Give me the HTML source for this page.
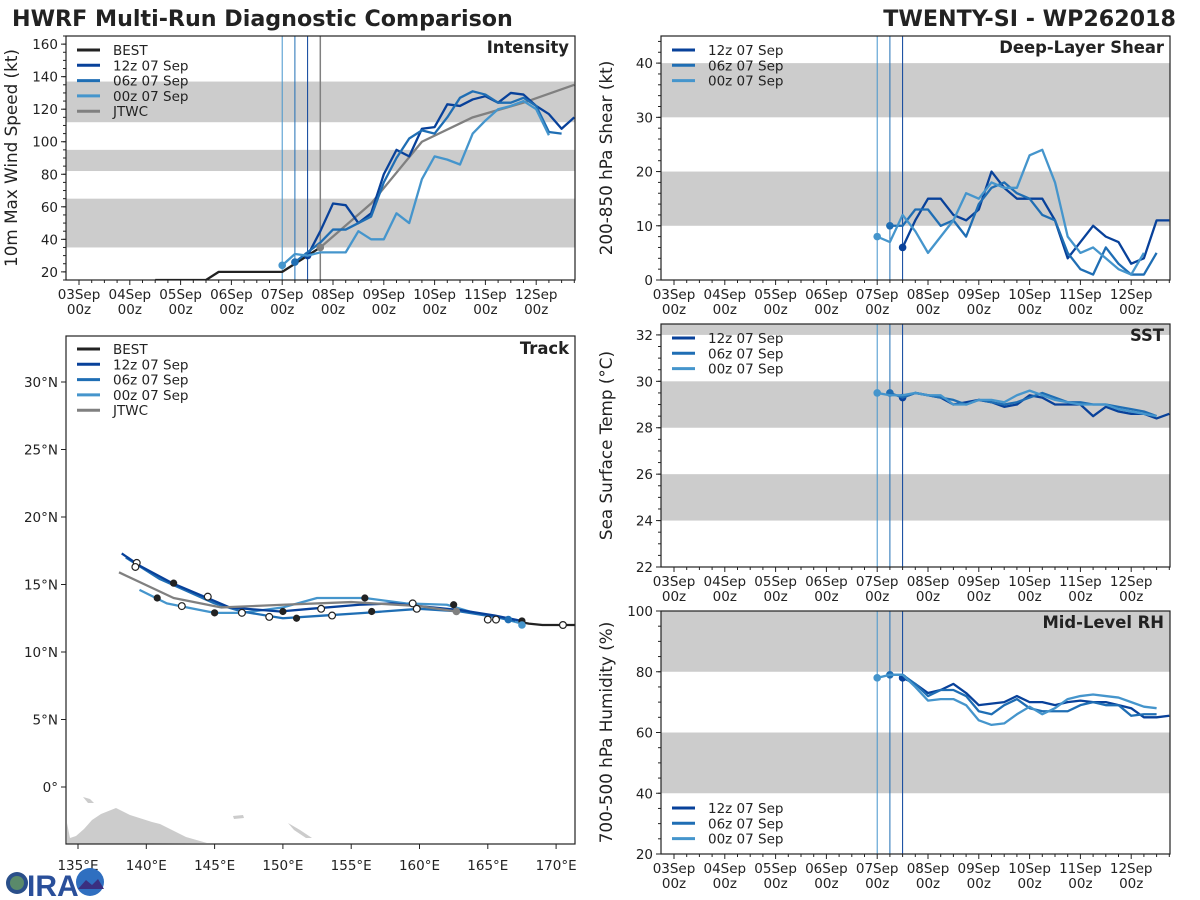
<!DOCTYPE html>
<html><head><meta charset="utf-8"><style>
body{margin:0;background:#fff;}
svg{display:block;font-family:"DejaVu Sans","Liberation Sans",sans-serif;}
</style></head><body>
<svg id="s" width="1200" height="900" viewBox="0 0 1200 900" xmlns="http://www.w3.org/2000/svg">
<text x="12" y="26" font-size="22.2" font-weight="bold" fill="#222">HWRF Multi-Run Diagnostic Comparison</text>
<text x="1176" y="26" font-size="22.2" font-weight="bold" fill="#222" text-anchor="end">TWENTY-SI - WP262018</text>
<g id="root"></g>
<g>
<circle cx="17" cy="883" r="11" fill="#2a4f8a"/><circle cx="17" cy="883" r="7" fill="#5a8a6a"/>
<text x="27" y="896" font-size="30" font-weight="bold" fill="#2a4f9a" font-family="Liberation Sans,sans-serif">IRA</text>
<circle cx="90" cy="882" r="14" fill="#2f6fc0"/><path d="M78 889 L86 880 L92 885 L98 879 L104 889 Z" fill="#3a2f80"/>
</g>
</svg>
<script>
const NS='http://www.w3.org/2000/svg';
const root=document.getElementById('root');
// ---------- DATA ----------
const runLabels=['12z 07 Sep','06z 07 Sep','00z 07 Sep'];
const runColors=['#08419a','#1f6eb4','#4595cc'];
const runStartHours=[108,102,96];
const bestHours=[36,60,66,96,102,108,114];
const bestVmax=[15,15,20,20,25,30,35];
const int12=[30,45,62,61,50,56,80,95,91,108,109,123,122,126,128,124,130,129,122,117,108,115];
const int06=[26,32,38,46,46,50,54,75,90,102,107,105,115,127,131,129,124,124,127,122,106,105];
const int00=[24,31,30,32,32,32,45,40,40,56,50,77,91,89,86,105,113,120,122,125,120,104];
const jtwcHours=[114,138,162,186,210,234];
const jtwcVmax=[35,62,100,115,124,135];
const shr12=[6,11,15,15,12,11,13,20,17,15,15,15,11,4,7,10,8,7,3,4,11,11];
const shr06=[10,10,13,13,10,11,8,14,17,18,16,15,12,11,5,2,1,6,3,1,1,5];
const shr00=[8,7,12,9,5,8,11,16,15,18,17,17,23,24,18,8,5,6,4,2,1,5];
const sst12=[29.3,29.5,29.4,29.3,29.0,29.1,29.2,29.1,28.9,29.0,29.4,29.3,29.0,29.0,29.0,28.5,28.9,28.7,28.6,28.6,28.4,28.6];
const sst06=[29.5,29.3,29.5,29.4,29.3,29.2,29.0,29.2,29.1,29.0,29.1,29.3,29.5,29.3,29.1,29.1,29.0,29.0,28.9,28.8,28.7,28.5];
const sst00=[29.5,29.4,29.4,29.5,29.4,29.4,29.0,29.0,29.2,29.2,29.1,29.4,29.6,29.4,29.2,29.1,29.0,29.0,29.0,28.8,28.7,28.6,28.5];
const rh12=[78,76,73,74,76,73,69,69.5,70,72,70,70,69,70,70.5,70,70,69,68,65,65,65.5];
const rh06=[79,79,76,72,74,74,72,67,66,69,71,68,67,67,67,69,70,69,69,65.5,66,66];
const rh00=[78,79,79,75,70.5,71,71,69,64,62.5,63,66,68.5,66,68,71,72,72.5,72,71.5,70,68.5,68];
const trkBestLon=[172.5,171,170,169,168,167.5];
const trkBestLat=[12.0,12.0,12.0,12.0,12.1,12.2];
const trk12Lon=[138.2,139.5,141.9,144.7,146.1,149.8,152,155.6,158,160,163,165.5,167.5];
const trk12Lat=[17.3,16.4,15.1,13.9,13.3,13.0,13.2,13.5,13.6,13.4,13.1,12.7,12.3];
const trk06Lon=[138.5,141,143,145,147,150,153,156,160,163,165.5,167];
const trk06Lat=[17.0,15.4,14.5,13.6,13.0,12.5,12.7,12.9,13.2,13.0,12.6,12.3];
const trk00Lon=[139.5,141.5,143,145,147,150,152.5,156,159,162,164,166,167.5];
const trk00Lat=[14.6,13.6,13.3,12.9,12.9,13.3,14.0,14.0,13.6,13.5,12.9,12.5,12.1];
const trkJtwcLon=[138.0,142.0,145.5,150,155,160,162.7];
const trkJtwcLat=[15.9,14.0,13.3,13.5,13.7,13.4,13.0];
const mkFilledLon=[140.8,142,145,150,151,156,156.5,162.5,167.5];
const mkFilledLat=[14.0,15.1,12.9,13.0,12.5,14.0,13.0,13.5,12.3];
const mkOpenLon=[139.3,139.2,144.5,142.6,147,149,152.8,153.6,159.5,159.8,165,165.6,170.5];
const mkOpenLat=[16.6,16.3,14.1,13.4,12.9,12.6,13.2,12.7,13.6,13.2,12.4,12.4,12.0];
const dayLabels=['03Sep','04Sep','05Sep','06Sep','07Sep','08Sep','09Sep','10Sep','11Sep','12Sep'];
const lonTicks=[135,140,145,150,155,160,165,170];
const latTicks=[0,5,10,15,20,25,30];
// ---------- HELPERS ----------
function el(tag,attrs,parent){const e=document.createElementNS(NS,tag);for(const k in attrs)e.setAttribute(k,attrs[k]);(parent||root).appendChild(e);return e;}
function txt(x,y,s,attrs,parent){const t=el('text',Object.assign({x:x,y:y,'font-size':13.5,fill:'#222'},attrs||{}),parent);t.textContent=s;return t;}
const PX_DAY=50.8;
function mkPanel(name,L,T,W,H,ymin,ymax,x0){
  const p={L,T,W,H,ymin,ymax,x0};
  p.x=h=>x0+h/24*PX_DAY;
  p.y=v=>T+H-(v-ymin)/(ymax-ymin)*H;
  p.g=el('g',{});
  
  
  const cp=el('clipPath',{id:'c'+name},p.g);el('rect',{x:L,y:T,width:W,height:H},cp);
  p.clip=el('g',{'clip-path':'url(#c'+name+')'},p.g);
  return p;
}
function band(p,a,b){const y1=p.y(Math.min(b,p.ymax+50)),y2=p.y(a);const r=el('rect',{x:p.L,y:y1,width:p.W,height:y2-y1,fill:'#cccccc'},p.clip);

}
function series(p,hours,vals,color,w,name){const pts=vals.map((v,i)=>p.x(hours[i])+','+p.y(v)).join(' ');const l=el('polyline',{points:pts,fill:'none',stroke:color,'stroke-width':w,'stroke-linejoin':'round'},p.clip);

return l;}
function hrs(start,n){return Array.from({length:n},(_,i)=>start+6*i);}
function frame(p,yt,ylabFmt,ytitle,title,minorStep){
  el('rect',{x:p.L,y:p.T,width:p.W,height:p.H,fill:'none',stroke:'#222','stroke-width':1.2},p.g);
  yt.forEach(v=>{const y=p.y(v);el('line',{x1:p.L-5,x2:p.L,y1:y,y2:y,stroke:'#222'},p.g);const t=txt(p.L-8,y+5,ylabFmt(v),{'text-anchor':'end'},p.g);
  
  });
  for(let v=p.ymin;v<=p.ymax;v+=minorStep){const y=p.y(v);el('line',{x1:p.L-3,x2:p.L,y1:y,y2:y,stroke:'#222'},p.g);}
  dayLabels.forEach((d,i)=>{const x=p.x(i*24);el('line',{x1:x,x2:x,y1:p.T+p.H,y2:p.T+p.H+5,stroke:'#222'},p.g);
    const t1=txt(x,p.T+p.H+19,d,{'text-anchor':'middle'},p.g);
    
    
    txt(x,p.T+p.H+34,'00z',{'text-anchor':'middle'},p.g);
    for(let k=1;k<4;k++){const xm=p.x(i*24+k*6);if(xm<p.L+p.W)el('line',{x1:xm,x2:xm,y1:p.T+p.H,y2:p.T+p.H+3,stroke:'#222'},p.g);}
  });
  const yt2=txt(0,0,ytitle,{'text-anchor':'middle','font-size':16.8,transform:`translate(${p.L-49},${p.T+p.H/2}) rotate(-90)`},p.g);
  
  
  const tt=txt(p.L+p.W-6,p.T+17,title,{'text-anchor':'end','font-size':16.4,'font-weight':'bold'},p.g);
  
  
}
function vlines(p,withJ){
  runStartHours.forEach((h,i)=>{const x=p.x(h);el('line',{x1:x,x2:x,y1:p.T,y2:p.T+p.H,stroke:runColors[i],'stroke-width':1},p.clip);});
  if(withJ){const x=p.x(114);el('line',{x1:x,x2:x,y1:p.T,y2:p.T+p.H,stroke:'#808080','stroke-width':1.5},p.clip);}
}
function legend(p,items,x,y){items.forEach((it,i)=>{const yy=y+i*15.3;el('line',{x1:x,x2:x+23,y1:yy,y2:yy,stroke:it[1],'stroke-width':3},p.g);const t=txt(x+36,yy+5,it[0],{'font-size':13.5},p.g);
  
  });}
function runs(p,arrs,dot){arrs.forEach((a,i)=>{const h=hrs(runStartHours[i],a.length);series(p,h,a,runColors[i],2.3,'series-'+runLabels[i].slice(0,3));
  if(dot){const c=el('circle',{cx:p.x(h[0]),cy:p.y(a[0]),r:3.8,fill:runColors[i]},p.clip);
  
  }});}
const runLeg=runLabels.map((l,i)=>[l,runColors[i]]);
// ---------- INTENSITY ----------
const pi=mkPanel('intensity-panel',66,36,509,244,15,165,79);
[[35,65],[82,95],[112,137]].forEach(b=>band(pi,b[0],b[1]));
vlines(pi,true);
series(pi,bestHours,bestVmax,'#222',2.3,'best-intensity-line');
series(pi,jtwcHours,jtwcVmax,'#808080',2.3,'jtwc-intensity-line');
runs(pi,[int12,int06,int00],true);
{const c=el('circle',{cx:pi.x(jtwcHours[0]),cy:pi.y(jtwcVmax[0]),r:3.8,fill:'#808080'},pi.clip);}
frame(pi,[20,40,60,80,100,120,140,160],v=>v,'10m Max Wind Speed (kt)','Intensity',5);
legend(pi,[['BEST','#222']].concat(runLeg,[['JTWC','#808080']]),77,50);
// ---------- SHEAR ----------
const ps=mkPanel('shear-panel',661,36,509,244,0,45,674);
[[10,20],[30,40]].forEach(b=>band(ps,b[0],b[1]));
vlines(ps,false);
runs(ps,[shr12,shr06,shr00],true);
frame(ps,[0,10,20,30,40],v=>v,'200-850 hPa Shear (kt)','Deep-Layer Shear',2);
legend(ps,runLeg,672,50);
// ---------- SST ----------
const pt=mkPanel('sst-panel',661,324,509,243,22,32.47,674);
[[24,26],[28,30],[32,34]].forEach(b=>band(pt,b[0],b[1]));
vlines(pt,false);
runs(pt,[sst12,sst06,sst00],true);
frame(pt,[22,24,26,28,30,32],v=>v,'Sea Surface Temp (°C)','SST',0.5);
legend(pt,runLeg,672,338);
// ---------- RH ----------
const pr=mkPanel('rh-panel',661,611,509,243,20,100,674);
[[40,60],[80,100]].forEach(b=>band(pr,b[0],b[1]));
vlines(pr,false);
runs(pr,[rh12,rh06,rh00],true);
frame(pr,[20,40,60,80,100],v=>v,'700-500 hPa Humidity (%)','Mid-Level RH',5);
legend(pr,runLeg,672,808);
// ---------- TRACK ----------
const TL=66,TT=336,TW=509,TH=508;
const lx=lon=>78+(lon-135)*13.66, ly=lat=>787-lat*13.5;
const tg=el('g',{});


const tcp=el('clipPath',{id:'ctrack'},tg);el('rect',{x:TL,y:TT,width:TW,height:TH},tcp);
const tc=el('g',{'clip-path':'url(#ctrack)'},tg);
const land=el('polygon',{points:'67,823 70,838 76,836 84,829 92,820 101,814 116,808 130,815 152,822 160,824 186,837 207,843 67,844',fill:'#cccccc'},tc);


el('polygon',{points:'83,797 90,799 94,803 88,803',fill:'#cccccc'},tc);
el('polygon',{points:'233,816 243,815 244,818 234,819',fill:'#cccccc'},tc);
el('polygon',{points:'288,823 300,830 312,838 306,838 294,830',fill:'#cccccc'},tc);
function trk(lons,lats,color,name){const l=el('polyline',{points:lons.map((v,i)=>lx(v)+','+ly(lats[i])).join(' '),fill:'none',stroke:color,'stroke-width':2.3,'stroke-linejoin':'round'},tc);

}
trk(trkBestLon,trkBestLat,'#222','best-track');
trk(trk00Lon,trk00Lat,runColors[2],'track-00z');
trk(trk06Lon,trk06Lat,runColors[1],'track-06z');
trk(trk12Lon,trk12Lat,runColors[0],'track-12z');
trk(trkJtwcLon,trkJtwcLat,'#808080','jtwc-track');
mkFilledLon.forEach((v,i)=>{const c=el('circle',{cx:lx(v),cy:ly(mkFilledLat[i]),r:3.6,fill:'#222'},tc);

});
mkOpenLon.forEach((v,i)=>{const c=el('circle',{cx:lx(v),cy:ly(mkOpenLat[i]),r:3.4,fill:'#fff',stroke:'#222','stroke-width':1.2},tc);

});
el('circle',{cx:lx(166.5),cy:ly(12.4),r:3.8,fill:runColors[1]},tc);
el('circle',{cx:lx(167.5),cy:ly(12.0),r:3.8,fill:runColors[2]},tc);
el('circle',{cx:lx(162.7),cy:ly(13.0),r:3.8,fill:'#808080'},tc);
el('rect',{x:TL,y:TT,width:TW,height:TH,fill:'none',stroke:'#222','stroke-width':1.2},tg);
lonTicks.forEach(v=>{const x=lx(v);el('line',{x1:x,x2:x,y1:TT+TH,y2:TT+TH+5,stroke:'#222'},tg);const t=txt(x,TT+TH+26,v+'°E',{'text-anchor':'middle'},tg);

});
latTicks.forEach(v=>{const y=ly(v);el('line',{x1:TL-5,x2:TL,y1:y,y2:y,stroke:'#222'},tg);const t=txt(TL-8,y+5,v===0?'0°':v+'°N',{'text-anchor':'end'},tg);

});
{const t=txt(TL+TW-6,TT+18,'Track',{'text-anchor':'end','font-size':16.4,'font-weight':'bold'},tg);}
legend({g:tg},[['BEST','#222']].concat(runLeg,[['JTWC','#808080']]),77,349);
</script>
</body></html>
